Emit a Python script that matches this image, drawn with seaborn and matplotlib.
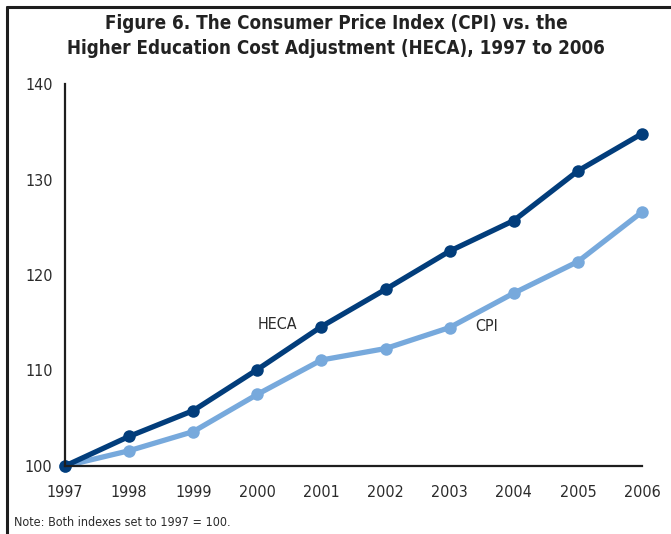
import matplotlib
matplotlib.use("Agg")
import matplotlib.pyplot as plt
from matplotlib.lines import Line2D
from matplotlib import font_manager
import seaborn as sns
import pandas as pd

years = [1997, 1998, 1999, 2000, 2001, 2002, 2003, 2004, 2005, 2006]
heca = [100.0, 103.1, 105.8, 110.1, 114.6, 118.5, 122.5, 125.7, 130.9, 134.8]
cpi = [100.0, 101.6, 103.6, 107.5, 111.1, 112.3, 114.5, 118.1, 121.4, 126.6]
y_ticks = [100, 110, 120, 130, 140]
title = "Figure 6. The Consumer Price Index (CPI) vs. the\nHigher Education Cost Adjustment (HECA), 1997 to 2006"
note = "Note: Both indexes set to 1997 = 100."

sns.set_theme(style="white")

entries = font_manager.fontManager.ttflist
fam_names = {f.name for f in entries}
condensed = False
if "Liberation Sans Narrow" in fam_names:
    plt.rcParams["font.family"] = ["Liberation Sans Narrow", "DejaVu Sans"]
    condensed = True
elif any(f.name == "DejaVu Sans" and "condensed" in str(f.stretch) for f in entries):
    plt.rcParams["font.family"] = ["DejaVu Sans"]
    plt.rcParams["font.stretch"] = "condensed"
    condensed = True
elif "Roboto Condensed" in fam_names:
    plt.rcParams["font.family"] = ["Roboto Condensed", "DejaVu Sans"]
    condensed = True
else:
    plt.rcParams["font.family"] = ["Roboto", "DejaVu Sans"]

tsize = 13.5 if condensed else 12.5
lsize = 11.5 if condensed else 11

df = pd.DataFrame({
    "year": years * 2,
    "value": heca + cpi,
    "series": ["HECA"] * len(years) + ["CPI"] * len(years),
})

dark = "#023d7b"
light = "#77a9dc"
txt = "#2b2b2b"

fig = plt.figure(figsize=(6.71, 5.34), dpi=100)
ax = fig.add_axes([65 / 671, 68 / 534, 577 / 671, 382 / 534])

sns.lineplot(data=df, x="year", y="value", hue="series",
             hue_order=["CPI", "HECA"], palette={"HECA": dark, "CPI": light},
             marker="o", markersize=9, markeredgewidth=0, linewidth=3.8,
             legend=False, ax=ax)
for ln in ax.lines:
    ln.set_clip_on(False)

ax.set_xlim(1997, 2006)
ax.set_ylim(100, 140)
ax.set_xticks(years)
ax.set_xticklabels([str(y) for y in years])
ax.set_yticks(y_ticks)
ax.set_xlabel("")
ax.set_ylabel("")
for s in ["top", "right"]:
    ax.spines[s].set_visible(False)
for s in ["left", "bottom"]:
    ax.spines[s].set_color("#1e1e1e")
    ax.spines[s].set_linewidth(1.6)
ax.tick_params(axis="both", length=0, labelsize=lsize, colors=txt)
ax.tick_params(axis="x", pad=14)
ax.tick_params(axis="y", pad=9)

ax.text(2000.32, 114.8, "HECA", ha="center", va="center", fontsize=lsize, color=txt)
ax.text(2003.57, 114.6, "CPI", ha="center", va="center", fontsize=lsize, color=txt)

fig.text(336 / 671, 1 - 36 / 534, title, ha="center", va="center",
         fontsize=tsize, fontweight="bold", color="#222222", linespacing=1.4)
fig.text(14 / 671, 1 - 522 / 534, note, ha="left", va="center",
         fontsize=9, color=txt)

fig.add_artist(Line2D([7 / 671, 1], [1 - 7 / 534, 1 - 7 / 534],
                      transform=fig.transFigure, color="#1e1e1e", linewidth=2.2))
fig.add_artist(Line2D([7 / 671, 7 / 671], [0, 1 - 7 / 534],
                      transform=fig.transFigure, color="#1e1e1e", linewidth=2.2))

fig.savefig("out.png", dpi=100)
